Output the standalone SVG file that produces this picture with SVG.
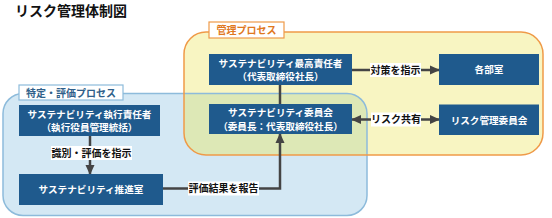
<svg xmlns="http://www.w3.org/2000/svg" width="552" height="218" viewBox="0 0 552 218">
<style>
text{font-family:"Noto Sans CJK JP","Noto Sans CJK SC",sans-serif;}
.title{font-size:14px;font-weight:700;fill:#111;}
.node rect{fill:#1f5a8d;}
.node text{font-size:9.6px;font-weight:700;fill:#fff;text-anchor:middle;}
.conn{stroke:#444;stroke-width:2.5;fill:none;}
.lbl-bg{fill:#fff;}
.lbl{font-size:10px;font-weight:700;fill:#111;text-anchor:middle;}
.cl{font-size:10px;font-weight:700;text-anchor:middle;}
</style>
<defs>
<marker id="ah" markerUnits="userSpaceOnUse" markerWidth="10" markerHeight="10" viewBox="0 0 10 10" refX="9" refY="5" orient="auto-start-reverse">
<path d="M0,0.5 L10,5 L0,9.5 Z" fill="#444"/>
</marker>
<clipPath id="blueclip"><rect x="3" y="93.5" width="364" height="122" rx="20"/></clipPath>
</defs>
<rect width="552" height="218" fill="#fff"/>
<text class="title" x="15" y="15.5">リスク管理体制図</text>

<g id="process-identify">
<rect x="3" y="93.5" width="364" height="122" rx="20" fill="#d4e8f4"/>
</g>
<g id="process-manage">
<rect x="184" y="32" width="359" height="123" rx="22" fill="#f8f5c2"/>
<rect x="184" y="32" width="359" height="123" rx="22" fill="#dde8b6" clip-path="url(#blueclip)"/>
<rect x="3" y="93.5" width="364" height="122" rx="20" fill="none" stroke="#8dbbdb" stroke-width="1.5"/>
<rect x="184" y="32" width="359" height="123" rx="22" fill="none" stroke="#ef9a48" stroke-width="1.5"/>
<rect x="209" y="22" width="75" height="16" fill="#fff" stroke="#ef9a48" stroke-width="1.2"/>
<text class="cl" x="246.5" y="34" fill="#e0781e">管理プロセス</text>
</g>
<g id="label-identify">
<rect x="19" y="85" width="104" height="15" fill="#fff" stroke="#8dbbdb" stroke-width="1.2"/>
<text class="cl" x="71" y="96.5" fill="#2f5f8a">特定・評価プロセス</text>
</g>

<g id="connectors">
<line class="conn" x1="280" y1="85" x2="280" y2="104"/>
<line class="conn" x1="352" y1="70" x2="439" y2="70" marker-end="url(#ah)"/>
<line class="conn" x1="352" y1="119.5" x2="439" y2="119.5" marker-start="url(#ah)" marker-end="url(#ah)"/>
<line class="conn" x1="90" y1="136" x2="90" y2="174" marker-end="url(#ah)"/>
<polyline class="conn" points="163,188.5 280,188.5 280,134" marker-end="url(#ah)"/>
<rect class="lbl-bg" x="370" y="63" width="51" height="14"/>
<text class="lbl" x="395.5" y="73.5">対策を指示</text>
<rect class="lbl-bg" x="371" y="112.5" width="50" height="14"/>
<text class="lbl" x="396" y="123">リスク共有</text>
<rect class="lbl-bg" x="51" y="146" width="81" height="14"/>
<text class="lbl" x="91.5" y="156.5">識別・評価を指示</text>
<rect class="lbl-bg" x="188" y="181.5" width="71" height="14"/>
<text class="lbl" x="223.5" y="192">評価結果を報告</text>
</g>

<g id="n-cso" class="node">
<rect x="209" y="54" width="143" height="31"/>
<text x="280.5" y="66.5">サステナビリティ最高責任者</text>
<text x="280.5" y="80">（代表取締役社長）</text>
</g>
<g id="n-depts" class="node">
<rect x="439" y="54" width="100" height="31"/>
<text x="489" y="73">各部室</text>
</g>
<g id="n-committee" class="node">
<rect x="209" y="104" width="143" height="30"/>
<text x="280.5" y="116">サステナビリティ委員会</text>
<text x="280.5" y="129.5">（委員長：代表取締役社長）</text>
</g>
<g id="n-risk" class="node">
<rect x="439" y="104.5" width="100" height="30.5"/>
<text x="489" y="123.5">リスク管理委員会</text>
</g>
<g id="n-exec" class="node">
<rect x="19" y="105" width="141" height="31"/>
<text x="89.5" y="117.5">サステナビリティ執行責任者</text>
<text x="89.5" y="131">（執行役員管理統括）</text>
</g>
<g id="n-office" class="node">
<rect x="19" y="174" width="144" height="31"/>
<text x="91" y="193">サステナビリティ推進室</text>
</g>
</svg>
